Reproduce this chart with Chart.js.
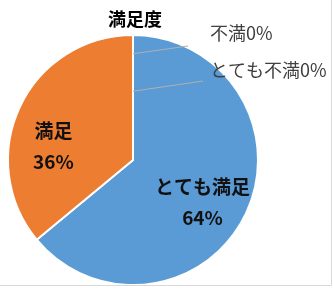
<!DOCTYPE html>
<html>
<head>
<meta charset="utf-8">
<script src="https://cdn.jsdelivr.net/npm/chart.js@4/dist/chart.umd.min.js"></script>
<style>
  body { margin: 0; background: #fff; }
  canvas { display: block; }
</style>
</head>
<body>
<canvas id="pie-chart" width="333" height="290"></canvas>
<script>
const title = '満足度';
const categories = ['とても満足', '満足', '不満', 'とても不満'];
const percents = [64, 36, 0, 0];
const colors = ['#5b9bd5', '#ed7d31', '#a5a5a5', '#ffc000'];

const FONT = '"Noto Sans CJK JP", "Noto Sans", sans-serif';

// where each label goes: inside slices use radius fraction + nudge,
// zero slices get a leader line out to the right
const labelPlacement = [
    { inside: true, r: 0.65, dx: -4, dy: 7 },
    { inside: true, r: 0.65, dx: -6, dy: 20 },
    { inside: false, from: 0.85, tx: 210, ty: 33, lx: 188, ly: 46 },
    { inside: false, from: 0.55, tx: 210, ty: 70, lx: 203, ly: 81 }
];

const pieLabels = {
    id: 'pieLabels',
    afterDatasetsDraw(chart) {
        const ctx = chart.ctx;
        const arcs = chart.getDatasetMeta(0).data;
        ctx.save();

        // title
        ctx.fillStyle = '#000';
        ctx.font = 'bold 18px ' + FONT;
        ctx.textAlign = 'center';
        ctx.textBaseline = 'middle';
        ctx.fillText(title, 135, 19);

        arcs.forEach((arc, i) => {
            const p = labelPlacement[i];
            const { x, y, startAngle, endAngle, outerRadius } = arc.getProps(['x', 'y', 'startAngle', 'endAngle', 'outerRadius']);
            if (p.inside) {
                const mid = (startAngle + endAngle) / 2;
                const lx = x + Math.cos(mid) * outerRadius * p.r + p.dx;
                const ly = y + Math.sin(mid) * outerRadius * p.r + p.dy;
                ctx.fillStyle = '#111';
                ctx.font = 'bold 19px ' + FONT;
                ctx.textAlign = 'center';
                ctx.textBaseline = 'middle';
                ctx.fillText(categories[i], lx, ly - 15);
                ctx.fillText(percents[i] + '%', lx, ly + 16);
            } else {
                const a = startAngle;
                const sx = x + Math.cos(a) * outerRadius * p.from;
                const sy = y + Math.sin(a) * outerRadius * p.from;
                ctx.strokeStyle = '#b0b0b0';
                ctx.lineWidth = 1;
                ctx.beginPath();
                ctx.moveTo(sx, sy);
                ctx.lineTo(p.lx, p.ly);
                ctx.stroke();
                ctx.fillStyle = '#404040';
                ctx.font = '18px ' + FONT;
                ctx.textAlign = 'left';
                ctx.textBaseline = 'middle';
                ctx.fillText(categories[i] + percents[i] + '%', p.tx, p.ty);
            }
        });

        // chart frame (right and bottom edges visible)
        ctx.strokeStyle = '#d9d9d9';
        ctx.lineWidth = 1;
        ctx.beginPath();
        ctx.moveTo(331.5, 0);
        ctx.lineTo(331.5, 285.5);
        ctx.lineTo(0, 285.5);
        ctx.stroke();
        ctx.restore();
    }
};

new Chart(document.getElementById('pie-chart').getContext('2d'), {
    type: 'pie',
    data: {
        labels: categories,
        datasets: [{
            data: percents,
            backgroundColor: colors,
            borderColor: '#ffffff',
            borderWidth: 2
        }]
    },
    options: {
        responsive: false,
        animation: false,
        layout: { padding: { left: 7, top: 34, right: 74, bottom: 4 } },
        plugins: {
            legend: { display: false },
            tooltip: { enabled: false },
            title: { display: false }
        }
    },
    plugins: [pieLabels]
});
</script>
</body>
</html>
